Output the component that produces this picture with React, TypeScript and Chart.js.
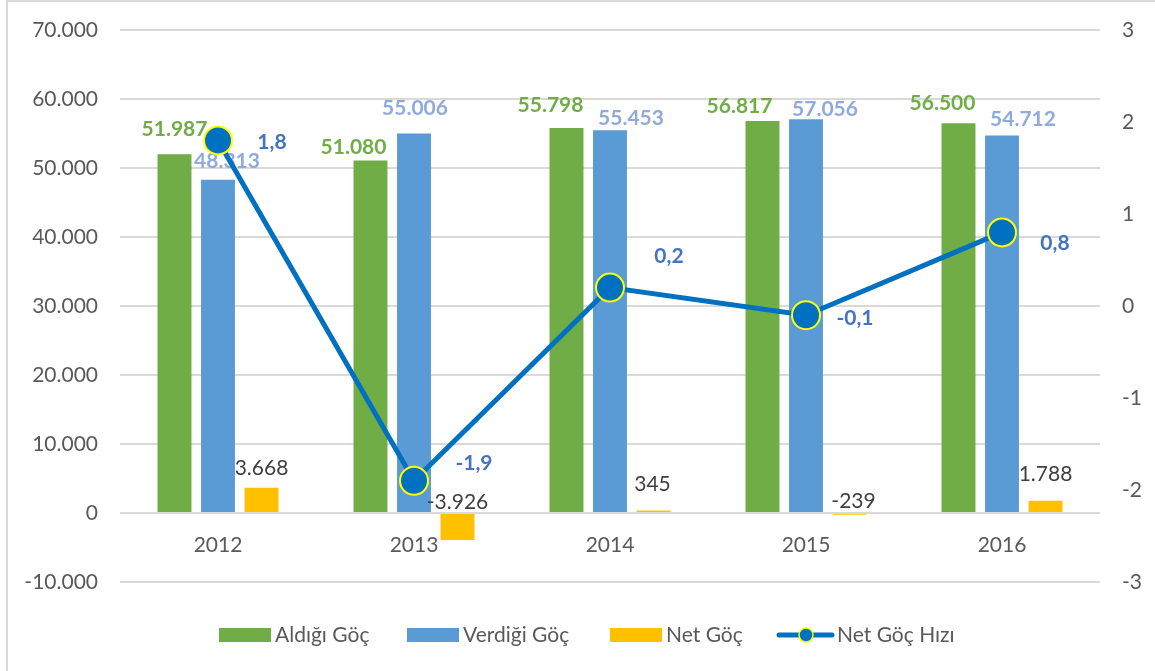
import React, { useEffect, useRef } from 'react';
import { Chart, registerables } from 'chart.js';

Chart.register(...registerables);

// ---- data ----
const categories = ['2012', '2013', '2014', '2015', '2016'];
const aldigiGoc = [51987, 51080, 55798, 56817, 56500];
const verdigiGoc = [48313, 55006, 55453, 57056, 54712];
const netGoc = [3668, -3926, 345, -239, 1788];
const netGocHizi = [1.8, -1.9, 0.2, -0.1, 0.8];
const seriesNames = ['Aldığı Göç', 'Verdiği Göç', 'Net Göç', 'Net Göç Hızı'];
const leftMin = -10000;
const leftMax = 70000;
const leftStep = 10000;
const rightMin = -3;
const rightMax = 3;
const rightStep = 1;

// ---- styling ----
const FONT = 'Lato, "Open Sans", sans-serif';
const GREEN = '#70AD47';
const BLUE = '#5B9BD5';
const YELLOW = '#FFC000';
const LINE = '#0070C0';
const AXIS_TEXT = '#595959';
const GRID = '#D9D9D9';

// label offsets (centre of label relative to top of bar / point)
const barLabelOffsets: number[][][] = [
  [[0, -25], [-17, -13], [-16, -23], [-23, -15], [-16, -20]],
  [[9, -18], [1, -25], [21, -12], [19, -10], [21, -16]],
  [[0, -19], [0, -12], [-1, -26], [4, -13], [0, -26]],
];
const barLabelColors = ['#70AD47', '#8FAADC', '#404040'];
const barLabelBold = [true, true, false];
const lineLabelOffsets = [[54, 2], [60, -18], [59, -31], [49, 3], [53, 11]];
const legendX = [219, 407, 610, 777];
const legendY = 635;

function fmtThousands(v: number): string {
  const neg = v < 0;
  const s = Math.abs(Math.round(v)).toString();
  const parts: string[] = [];
  for (let i = s.length; i > 0; i -= 3) {
    parts.unshift(s.substring(Math.max(0, i - 3), i));
  }
  return (neg ? '-' : '') + parts.join('.');
}

function fmtDecimal(v: number): string {
  return v.toFixed(1).replace('.', ',');
}

const labelPlugin = {
  id: 'customLabels',
  beforeDraw(chart: any) {
    const ctx = chart.ctx;
    ctx.save();
    ctx.fillStyle = GRID;
    ctx.fillRect(6, 0, 2, chart.height);
    ctx.fillRect(6, 0, chart.width - 6, 2);
    ctx.restore();
  },
  afterDatasetDraw(chart: any, args: any) {
    // bars are drawn last-to-first, so dataset 0 is the last bar drawn
    if (args.index !== 0) return;
    const ctx = chart.ctx;
    for (let idx = 0; idx < 3; idx++) {
      const meta = chart.getDatasetMeta(idx);
      const data = chart.data.datasets[idx].data as number[];
      ctx.save();
      ctx.font = `${barLabelBold[idx] ? 'bold ' : ''}21px ${FONT}`;
      ctx.fillStyle = barLabelColors[idx];
      ctx.textAlign = 'center';
      ctx.textBaseline = 'middle';
      meta.data.forEach((el: any, j: number) => {
        const top = Math.min(el.y, el.base);
        const off = barLabelOffsets[idx][j];
        ctx.fillText(fmtThousands(data[j]), el.x + off[0], top + off[1]);
      });
      ctx.restore();
    }
  },
  afterDatasetsDraw(chart: any) {
    const ctx = chart.ctx;
    const meta = chart.getDatasetMeta(3);
    const data = chart.data.datasets[3].data as number[];
    ctx.save();
    ctx.font = `bold 21px ${FONT}`;
    ctx.fillStyle = '#4472C4';
    ctx.textAlign = 'center';
    ctx.textBaseline = 'middle';
    meta.data.forEach((el: any, j: number) => {
      const off = lineLabelOffsets[j];
      ctx.fillText(fmtDecimal(data[j]), el.x + off[0], el.y + off[1]);
    });
    ctx.restore();
  },
  afterDraw(chart: any) {
    const ctx = chart.ctx;
    ctx.save();
    ctx.font = `21px ${FONT}`;
    ctx.textBaseline = 'middle';
    ctx.textAlign = 'left';
    const colors = [GREEN, BLUE, YELLOW];
    seriesNames.forEach((name, i) => {
      const x = legendX[i];
      if (i < 3) {
        ctx.fillStyle = colors[i];
        ctx.fillRect(x, legendY - 7, 52, 14);
        ctx.fillStyle = AXIS_TEXT;
        ctx.fillText(name, x + 56, legendY);
      } else {
        ctx.strokeStyle = LINE;
        ctx.lineWidth = 5;
        ctx.lineCap = 'round';
        ctx.beginPath();
        ctx.moveTo(x + 2, legendY);
        ctx.lineTo(x + 55, legendY);
        ctx.stroke();
        ctx.beginPath();
        ctx.arc(x + 29, legendY, 7, 0, Math.PI * 2);
        ctx.fillStyle = LINE;
        ctx.fill();
        ctx.lineWidth = 1.5;
        ctx.strokeStyle = '#FFFF00';
        ctx.stroke();
        ctx.fillStyle = AXIS_TEXT;
        ctx.fillText(name, x + 60, legendY);
      }
    });
    ctx.restore();
  },
};

export default function App() {
  const canvasRef = useRef<HTMLCanvasElement | null>(null);

  useEffect(() => {
    if (!canvasRef.current) return;
    const tickFont = { family: FONT, size: 21 };
    const barCommon = {
      yAxisID: 'y',
      order: 2,
      barPercentage: 0.78,
      categoryPercentage: 0.666,
    };
    const chart = new Chart(canvasRef.current, {
      type: 'bar',
      data: {
        labels: categories,
        datasets: [
          { type: 'bar', label: seriesNames[0], data: aldigiGoc, backgroundColor: GREEN, ...barCommon },
          { type: 'bar', label: seriesNames[1], data: verdigiGoc, backgroundColor: BLUE, ...barCommon },
          { type: 'bar', label: seriesNames[2], data: netGoc, backgroundColor: YELLOW, ...barCommon },
          {
            type: 'line',
            label: seriesNames[3],
            data: netGocHizi,
            borderColor: LINE,
            borderWidth: 5,
            pointRadius: 14,
            pointHoverRadius: 14,
            pointBackgroundColor: LINE,
            pointBorderColor: '#FFFF00',
            pointBorderWidth: 2,
            yAxisID: 'y1',
            order: 1,
            tension: 0,
          } as any,
        ],
      },
      options: {
        responsive: false,
        animation: false,
        layout: { padding: { top: 30, bottom: 89, left: 0, right: 0 } },
        plugins: {
          legend: { display: false },
          tooltip: { enabled: false },
        },
        scales: {
          x: {
            type: 'category',
            position: { y: 0 } as any,
            offset: true,
            grid: { display: false },
            border: { display: false },
            ticks: { font: tickFont, color: AXIS_TEXT, padding: 12, maxRotation: 0 },
            afterFit: (s: any) => {
              s.paddingTop = 0;
              s.paddingBottom = 0;
            },
          },
          y: {
            position: 'left',
            min: leftMin,
            max: leftMax,
            ticks: {
              stepSize: leftStep,
              font: tickFont,
              color: AXIS_TEXT,
              padding: 22,
              callback: (v: any) => fmtThousands(Number(v)),
            },
            grid: { color: GRID, lineWidth: 2, drawTicks: false },
            border: { display: false },
            afterFit: (s: any) => {
              s.width = 120;
              s.paddingTop = 0;
              s.paddingBottom = 0;
            },
          },
          y1: {
            position: 'right',
            min: rightMin,
            max: rightMax,
            ticks: {
              stepSize: rightStep,
              font: tickFont,
              color: AXIS_TEXT,
              padding: 22,
              callback: (v: any) => String(v),
            },
            grid: { display: false, drawTicks: false },
            border: { display: false },
            afterFit: (s: any) => {
              s.width = 55;
              s.paddingTop = 0;
              s.paddingBottom = 0;
            },
          },
        },
      } as any,
      plugins: [labelPlugin],
    });
    return () => chart.destroy();
  }, []);

  return (
    <div style={{ position: 'absolute', left: 0, top: 0, width: 1155, height: 671, background: '#fff' }}>
      <canvas ref={canvasRef} width={1155} height={671} style={{ display: 'block' }} />
    </div>
  );
}
